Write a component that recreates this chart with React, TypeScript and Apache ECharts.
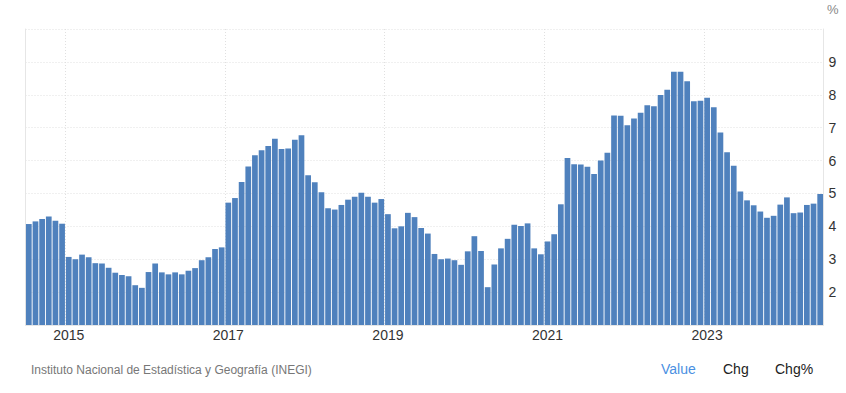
import React, { useEffect, useRef } from "react";
import * as echarts from "echarts";

const startYear = 2014;
const startMonth = 7;

const values: number[] = [
  // 2014 Jul-Dec
  4.07, 4.15, 4.22, 4.3, 4.17, 4.08,
  // 2015
  3.07, 3.0, 3.14, 3.06, 2.88, 2.87, 2.74, 2.59, 2.52, 2.48, 2.21, 2.13,
  // 2016
  2.61, 2.87, 2.6, 2.54, 2.6, 2.54, 2.65, 2.73, 2.97, 3.06, 3.31, 3.36,
  // 2017
  4.72, 4.86, 5.35, 5.82, 6.16, 6.31, 6.44, 6.66, 6.35, 6.37, 6.63, 6.77,
  // 2018
  5.55, 5.34, 5.04, 4.55, 4.51, 4.65, 4.81, 4.9, 5.02, 4.9, 4.72, 4.83,
  // 2019
  4.37, 3.94, 4.0, 4.41, 4.28, 3.95, 3.78, 3.16, 3.0, 3.02, 2.97, 2.83,
  // 2020
  3.24, 3.7, 3.25, 2.15, 2.84, 3.33, 3.62, 4.05, 4.01, 4.09, 3.33, 3.15,
  // 2021
  3.54, 3.76, 4.67, 6.08, 5.89, 5.88, 5.81, 5.59, 6.0, 6.24, 7.37, 7.36,
  // 2022
  7.07, 7.28, 7.45, 7.68, 7.65, 7.99, 8.15, 8.7, 8.7, 8.41, 7.8, 7.82,
  // 2023
  7.91, 7.62, 6.85, 6.25, 5.84, 5.06, 4.79, 4.64, 4.45, 4.26, 4.32, 4.66,
  // 2024 Jan-Jun
  4.88, 4.4, 4.42, 4.65, 4.69, 4.98,
];

const categories: string[] = values.map((_, i) => {
  const m0 = startMonth - 1 + i;
  const y = startYear + Math.floor(m0 / 12);
  const m = (m0 % 12) + 1;
  return `${y}-${String(m).padStart(2, "0")}`;
});

const yearTicks = ["2015", "2017", "2019", "2021", "2023"];
const yTickLabels = ["2", "3", "4", "5", "6", "7", "8", "9"];

const sourceText = "Instituto Nacional de Estadística y Geografía (INEGI)";
const unitText = "%";
const tabs = ["Value", "Chg", "Chg%"];

const isTick = (idx: number) => {
  const c = categories[idx];
  return c.endsWith("-01") && yearTicks.includes(c.slice(0, 4));
};

export default function App() {
  const ref = useRef<HTMLDivElement>(null);
  useEffect(() => {
    if (!ref.current) return;
    const chart = echarts.init(ref.current, undefined, { renderer: "svg" });
    const font = "Arial, 'Liberation Sans', sans-serif";
    chart.setOption({
      animation: false,
      grid: { left: 25.5, right: 22.5, top: 29, bottom: 68, containLabel: false },
      xAxis: {
        type: "category",
        data: categories,
        boundaryGap: true,
        axisTick: { show: false },
        axisLine: { show: true, lineStyle: { color: "#e6e6e6", width: 1 } },
        axisLabel: {
          interval: (idx: number) => isTick(idx),
          formatter: (v: string) => v.slice(0, 4),
          color: "#333",
          fontSize: 14,
          fontFamily: font,
          margin: 3,
        },
        splitLine: {
          show: true,
          interval: (idx: number) => isTick(idx),
          lineStyle: { color: "#e0e0e0", type: [1, 2], width: 1 },
        },
      },
      yAxis: [
        {
          type: "value",
          position: "right",
          min: 1,
          max: 10,
          interval: 1,
          axisLine: { show: true, lineStyle: { color: "#e6e6e6" } },
          axisTick: { show: false },
          axisLabel: {
            formatter: (v: number) => (yTickLabels.includes(String(v)) ? String(v) : ""),
            color: "#333",
            fontSize: 14,
            fontFamily: font,
            margin: 5,
          },
          splitLine: { show: true, lineStyle: { color: "#e0e0e0", type: [1, 2] } },
        },
        {
          type: "value",
          position: "left",
          min: 1,
          max: 10,
          interval: 1,
          axisLine: { show: true, lineStyle: { color: "#e6e6e6" } },
          axisTick: { show: false },
          axisLabel: { show: false },
          splitLine: { show: false },
        },
      ],
      series: [
        {
          type: "bar",
          data: values,
          yAxisIndex: 0,
          barCategoryGap: "14%",
          itemStyle: { color: "#4f81bd" },
        },
      ],
      graphic: [
        {
          type: "text",
          left: 827,
          top: 3,
          style: { text: unitText, fill: "#888", fontSize: 13, fontFamily: font },
        },
        {
          type: "text",
          left: 31,
          top: 364,
          style: { text: sourceText, fill: "#777", fontSize: 12, fontFamily: font },
        },
        {
          type: "text",
          left: 661,
          top: 362,
          style: { text: tabs[0], fill: "#4a90e2", fontSize: 14, fontFamily: font },
        },
        {
          type: "text",
          left: 723,
          top: 362,
          style: { text: tabs[1], fill: "#222", fontSize: 14, fontFamily: font },
        },
        {
          type: "text",
          left: 775,
          top: 362,
          style: { text: tabs[2], fill: "#222", fontSize: 14, fontFamily: font },
        },
      ],
    });
    return () => chart.dispose();
  }, []);
  return (
    <div
      ref={ref}
      style={{ position: "fixed", left: 0, top: 0, width: 846, height: 393, background: "#fff" }}
    />
  );
}
